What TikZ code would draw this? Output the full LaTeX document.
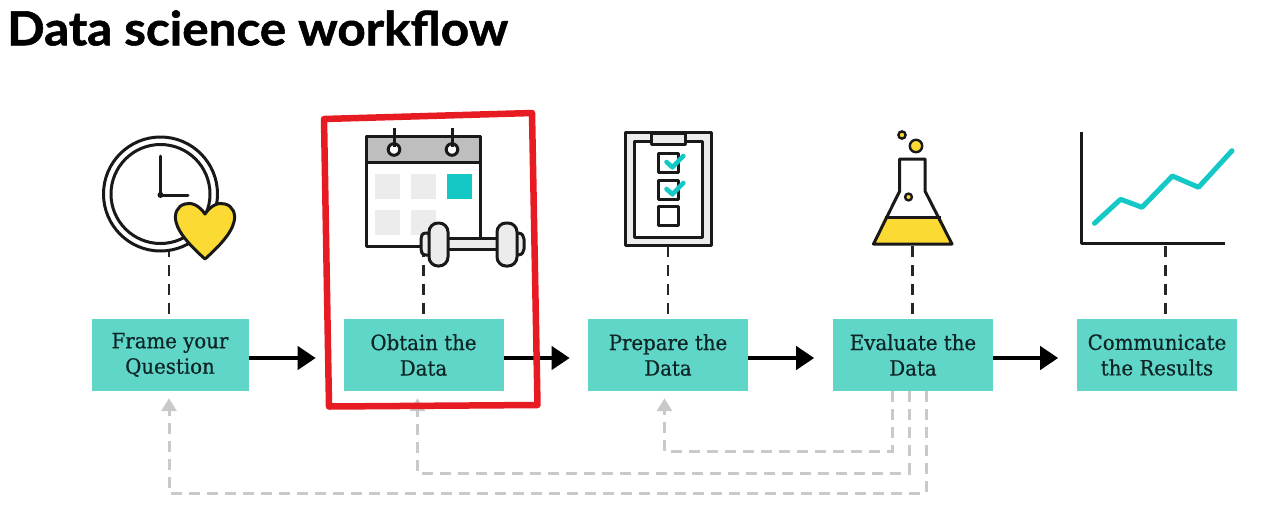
\documentclass[tikz,border=0pt]{standalone}
\usepackage{fontspec}
\setmainfont{Liberation Serif}
\newfontfamily\titlefont[BoldFeatures={FakeBold=1.2,FakeStretch=1.05}]{Lato}
\newfontfamily\boxfont[FakeStretch=0.94,FakeBold=0.5]{DejaVu Serif}
\usetikzlibrary{arrows.meta}
\definecolor{boxteal}{HTML}{5FD6C8}
\definecolor{iconteal}{HTML}{14C9C5}
\definecolor{iconyellow}{HTML}{FBDB33}
\definecolor{framered}{HTML}{E71C23}
\definecolor{backgray}{HTML}{C9C9C9}
\definecolor{lightsq}{HTML}{ECECEC}
\definecolor{inktext}{HTML}{0E2525}
\tikzset{
  stepbox/.style={fill=boxteal,minimum width=160pt,minimum height=72pt,inner sep=0pt,align=center,
    text=inktext,font=\boxfont\fontsize{21}{25.5}\selectfont},
  flowarrow/.style={line width=4pt,-{Triangle[length=18pt,width=23pt]}},
  tieline/.style={line width=2.4pt,black!85,dash pattern=on 11pt off 8pt},
  backline/.style={line width=3pt,backgray,dash pattern=on 11pt off 7pt,
    -{Triangle[length=13pt,width=15pt]},shorten >=7pt},
  ink/.style={line width=3pt,draw=black!90,line join=round},
  tick/.style={line width=4.6pt,iconteal,line join=round,line cap=round},
}
\begin{document}
\begin{tikzpicture}[x=1pt,y=-1pt]
\useasboundingbox (0,0) rectangle (1280,512);
\fill[white] (0,0) rectangle (1280,512);
\node[anchor=west,inner sep=0pt,font=\titlefont\bfseries\fontsize{47}{50}\selectfont] (title) at (7,28) {Data science workflow};

% boxes
\node[stepbox,minimum width=157pt] (frame) at (170,355) {Frame your\\Question};
\node[stepbox] (obtain) at (423.5,355) {Obtain the\\Data};
\node[stepbox] (prepare) at (668,355) {Prepare the\\Data};
\node[stepbox] (evaluate) at (913,355) {Evaluate the\\Data};
\node[stepbox] (communicate) at (1157,355) {Communicate\\the Results};

% anchors under the icons
\coordinate (clockfoot) at (169,246);
\coordinate (calfoot) at (423.5,246);
\coordinate (clipfoot) at (668,246);
\coordinate (flaskfoot) at (912.5,246);
\coordinate (chartfoot) at (1165.5,246);

% tie lines
\draw[tieline] (clockfoot) -- (clockfoot |- frame.north);
\draw[tieline] (calfoot) -- (calfoot |- obtain.north);
\draw[tieline] (clipfoot) -- (clipfoot |- prepare.north);
\draw[tieline] (flaskfoot) -- (flaskfoot |- evaluate.north);
\draw[tieline] (chartfoot) -- (chartfoot |- communicate.north);

% flow arrows
\draw[flowarrow] ([yshift=-3pt]frame.east) -- ++(67,0);
\draw[flowarrow] ([yshift=-3pt]obtain.east) -- ++(66,0);
\draw[flowarrow] ([yshift=-3pt]prepare.east) -- ++(66,0);
\draw[flowarrow] ([yshift=-3pt]evaluate.east) -- ++(65,0);

% feedback
\draw[backline] ([xshift=-21pt]evaluate.south) -- ++(0,60) -| ([xshift=-3.5pt]prepare.south);
\draw[backline] ([xshift=-4pt]evaluate.south) -- ++(0,82) -| ([xshift=-6pt]obtain.south);
\draw[backline] ([xshift=13pt]evaluate.south) -- ++(0,102) -| ([xshift=-1pt]frame.south);

% clock
\draw[ink,fill=white] (160.5,194) circle (57);
\draw[ink] (160.5,194) circle (49.5);
\draw[ink,line cap=round] (160.5,156) -- (160.5,195) -- (188,195);
\fill[black!90] (160.5,195) circle (3);
% heart
\draw[ink,fill=iconyellow] (205,214) .. controls (199,205) and (191,202) .. (185,204)
  .. controls (177,206) and (174,214) .. (176,222)
  .. controls (179,235) and (195,250) .. (205,259)
  .. controls (215,250) and (231,235) .. (234,222)
  .. controls (236,214) and (233,206) .. (225,204)
  .. controls (219,202) and (211,205) .. (205,214) -- cycle;

% calendar
\draw[ink,fill=white] (366,136) rectangle (480,246);
\draw[ink,fill=backgray!120] (366,136) rectangle (480,162);
\fill[lightsq] (375,174) rectangle (399.5,199);
\fill[lightsq] (411,174) rectangle (436,199);
\fill[iconteal] (447,174) rectangle (471.5,199);
\fill[lightsq] (375,210) rectangle (399.5,235);
\fill[lightsq] (411,210) rectangle (436,235);
\draw[ink,fill=white] (394,149.5) circle (5.8);
\draw[ink,fill=white] (452,149.5) circle (5.8);
\draw[ink] (394,128) -- (394,147);
\draw[ink] (452,128) -- (452,147);
% dumbbell
\draw[ink,fill=lightsq] (440,238.5) rectangle (505,249.5);
\draw[ink,fill=lightsq] (429,233) -- (426,233) .. controls (422,233) and (421,236) .. (421,239) -- (421,249) .. controls (421,252) and (422,255) .. (426,255) -- (431,255) -- cycle;
\draw[ink,fill=lightsq] (515,233) -- (518,233) .. controls (522,233) and (524,236) .. (524,239) -- (524,249) .. controls (524,252) and (522,255) .. (518,255) -- (513,255) -- cycle;
\draw[ink,fill=lightsq,rounded corners=9pt] (429,223) rectangle (448,266);
\draw[ink,fill=lightsq,rounded corners=9pt] (497,223) rectangle (517,266);

% clipboard
\draw[ink,fill=lightsq] (625,132) rectangle (711.5,245);
\draw[ink,fill=white] (634,141) rectangle (702,237);
\draw[ink,fill=lightsq] (651,133) rectangle (685,144);
\draw[ink,fill=white] (658,153) rectangle (678,172);
\draw[ink,fill=white] (658,180) rectangle (678,199);
\draw[ink,fill=white] (658,206) rectangle (678,225);
\draw[tick] (666.5,162) -- (672.4,167.3) -- (683.3,156);
\draw[tick] (666.5,189) -- (672.4,194.3) -- (683.3,183);

% flask
\fill[iconyellow] (884.5,217.5) -- (941,217.5) -- (952,244) -- (873.5,244) -- cycle;
\draw[ink] (899.7,159) -- (925,159) -- (925,191) -- (952,244) -- (873.5,244) -- (899.7,191) -- cycle;
\draw[ink] (885,217.5) -- (941,217.5);
\draw[line width=2.4pt,draw=black!90,fill=iconyellow] (902,135) circle (3.6);
\draw[line width=2.4pt,draw=black!90,fill=iconyellow] (916,146) circle (6.2);
\draw[line width=2.4pt,draw=black!90,fill=iconyellow] (908.5,197) circle (3.4);

% chart
\draw[ink] (1081.5,132) -- (1081.5,243.5) -- (1225,243.5);
\draw[line width=5pt,iconteal,line join=round,line cap=round]
  (1094.5,223.3) -- (1120.6,199.3) -- (1142,207.3) -- (1172.4,176) -- (1198.5,187.3) -- (1232,150.7);

% red hand-drawn frame
\draw[line width=6.5pt,framered,line join=round,line cap=round]
  (324,119) -- (532,113) -- (537.5,405) -- (329,406.5) -- cycle;
\end{tikzpicture}
\end{document}
